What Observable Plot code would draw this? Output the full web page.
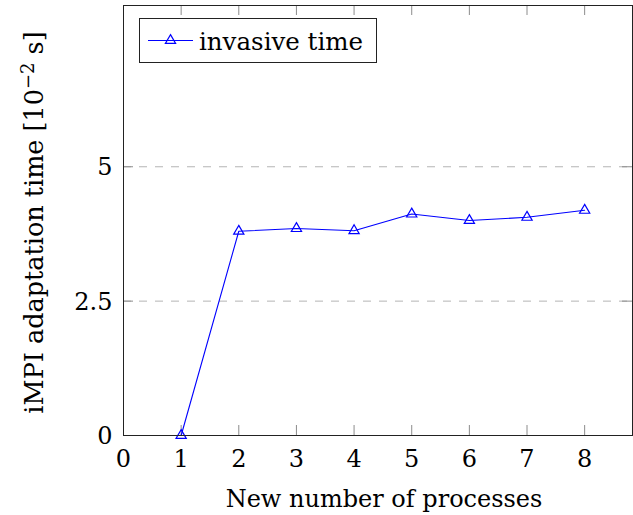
<!DOCTYPE html>
<html>
<head>
<meta charset="utf-8">
<script src="https://cdn.jsdelivr.net/npm/d3@7"></script>
<script src="https://cdn.jsdelivr.net/npm/@observablehq/plot@0.6"></script>
<style>
  html, body { margin: 0; padding: 0; background: #fff; }
  #chart { position: relative; width: 633px; height: 515px; }
  #legend { position: absolute; left: 0; top: 0; pointer-events: none; }
</style>
</head>
<body>
<div id="chart"></div>
<script>
// Measured adaptation time per new process count (in 10^-2 s)
const processes = [1, 2, 3, 4, 5, 6, 7, 8];
const invasiveTime = [0, 3.80, 3.85, 3.81, 4.12, 4.00, 4.06, 4.19];

// Axis setup
const xTicks = [0, 1, 2, 3, 4, 5, 6, 7, 8];
const xTickLabels = ["0", "1", "2", "3", "4", "5", "6", "7", "8"];
const yTicks = [0, 2.5, 5];
const yTickLabels = ["0", "2.5", "5"];
const yGrid = [2.5, 5];
const xDomain = [0, 8.83];
const yDomain = [0, 8];

const seriesName = "invasive time";
const xLabel = "New number of processes";
const yLabelMain = "iMPI adaptation time [10";
const yLabelExp = "−2";
const yLabelUnit = " s]";

const lineColor = "#0000ff";
const font = "DejaVu Serif";

const data = processes.map((p, i) => ({p, t: invasiveTime[i]}));
const TICK = 10; // inward tick length in px

const plot = Plot.plot({
  width: 633,
  height: 515,
  marginLeft: 123,
  marginRight: 1,
  marginTop: 5,
  marginBottom: 80,
  style: {fontFamily: font, fontSize: "24px", color: "#000", background: "#fff", overflow: "visible"},
  x: {domain: xDomain, axis: null},
  y: {domain: yDomain, axis: null},
  marks: [
    // dashed horizontal grid
    Plot.ruleY(yGrid, {y: d => d, stroke: "#b4b4b4", strokeWidth: 1, strokeDasharray: "8,8"}),
    // inward ticks: bottom and top
    Plot.ruleX(xTicks, {x: d => d, y1: () => yDomain[0], y2: () => yDomain[0], insetTop: -TICK, stroke: "#8c8c8c"}),
    Plot.ruleX(xTicks, {x: d => d, y1: () => yDomain[1], y2: () => yDomain[1], insetBottom: -TICK, stroke: "#8c8c8c"}),
    // inward ticks: left and right
    Plot.ruleY(yTicks, {y: d => d, x1: () => xDomain[0], x2: () => xDomain[0], insetRight: -TICK, stroke: "#8c8c8c"}),
    Plot.ruleY(yTicks, {y: d => d, x1: () => xDomain[1], x2: () => xDomain[1], insetLeft: -TICK, stroke: "#8c8c8c"}),
    // series
    Plot.line(data, {x: "p", y: "t", stroke: lineColor, strokeWidth: 1.1}),
    Plot.dot(data, {x: "p", y: "t", symbol: "triangle", r: 3.8, stroke: lineColor, strokeWidth: 1.2, fill: "none"}),
    // frame
    Plot.frame({stroke: "#222", strokeWidth: 1}),
    // tick labels
    Plot.text(xTicks, {x: d => d, text: (d, i) => xTickLabels[i], frameAnchor: "bottom", lineAnchor: "bottom", dy: 31, textAnchor: "middle"}),
    Plot.text(yTicks, {y: d => d, text: (d, i) => yTickLabels[i], frameAnchor: "left", lineAnchor: "middle", textAnchor: "end", dx: -11, dy: 1}),
    // axis titles
    Plot.text([xLabel], {text: d => d, frameAnchor: "bottom", lineAnchor: "bottom", textAnchor: "middle", dx: 6, dy: 71}),
    Plot.text([yLabelMain], {text: d => d, frameAnchor: "left", lineAnchor: "middle", textAnchor: "middle", rotate: -90, fontSize: 25.5, dx: -89, dy: 2})
  ]
});

// y title with a raised exponent
d3.select(plot).selectAll("text")
  .filter(function() { return this.textContent === yLabelMain; })
  .each(function() {
    const t = d3.select(this);
    t.text(null);
    t.append("tspan").text(yLabelMain);
    t.append("tspan").attr("font-size", "18px").attr("baseline-shift", "9px").text(yLabelExp);
    t.append("tspan").text(yLabelUnit);
  });

const chart = document.getElementById("chart");
chart.appendChild(plot);

// Legend box in the upper-left corner of the frame
const lg = d3.select(chart).append("svg")
  .attr("id", "legend")
  .attr("width", 633).attr("height", 515);
lg.append("rect")
  .attr("x", 139.5).attr("y", 18.5).attr("width", 237).attr("height", 44)
  .attr("fill", "#fff").attr("stroke", "#222").attr("stroke-width", 1);
lg.append("line")
  .attr("x1", 148).attr("x2", 193).attr("y1", 40.5).attr("y2", 40.5)
  .attr("stroke", lineColor).attr("stroke-width", 1.1);
lg.append("path")
  .attr("d", d3.symbol(d3.symbolTriangle, 3.8 * 3.8 * Math.PI)())
  .attr("transform", "translate(170.5,40.5)")
  .attr("fill", "none").attr("stroke", lineColor).attr("stroke-width", 1.2);
lg.append("text")
  .attr("x", 199).attr("y", 50)
  .attr("font-family", font).attr("font-size", "24.5px").attr("fill", "#000")
  .text(seriesName);
</script>
</body>
</html>
